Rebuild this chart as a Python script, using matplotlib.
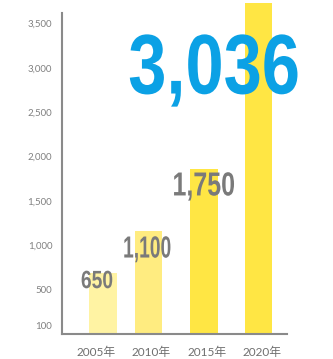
import numpy as np
import matplotlib
matplotlib.use("Agg")
import matplotlib.pyplot as plt
from matplotlib import patheffects
from matplotlib.transforms import Affine2D

# data ---------------------------------------------------------------------------
years = ["2005年", "2010年", "2015年", "2020年"]
values = [650, 1100, 1750, 3036]          # printed labels
bar_heights = [690, 1160, 1860, 3730]     # heights as drawn in the picture
yticks = [100, 500, 1000, 1500, 2000, 2500, 3000, 3500]

# style --------------------------------------------------------------------------
bar_colors = ["#FFF3A3", "#FFEC80", "#FFE644", "#FFE644"]
bar_offsets = [0.13, -0.05, -0.05, -0.06]
gray = "#808080"
blue = "#0BA1E5"
lab_font = ["Lato", "Noto Sans CJK JP"]
DPI = 100


# squeeze glyphs horizontally (condensed look) around a fixed pixel x
class Squeeze(patheffects.AbstractPathEffect):
    def __init__(self, sx, cx):
        super().__init__()
        self.sx, self.cx = sx, cx

    def draw_path(self, renderer, gc, tpath, affine, rgbFace=None):
        t = affine + Affine2D().translate(-self.cx, 0).scale(self.sx, 1).translate(self.cx, 0)
        renderer.draw_path(gc, tpath, t, rgbFace)


fig = plt.figure(figsize=(3.33, 3.59), dpi=DPI)
ax = fig.add_axes([0.1862, 0.0696, 0.6757, 0.8942])

x = np.arange(len(years)) + np.array(bar_offsets)
bars = ax.bar(x, bar_heights, width=0.5, color=bar_colors, zorder=1)
bars[3].set_clip_on(False)

ax.set_xlim(-0.615, 3.454)
ax.set_ylim(0, 3620)
ax.set_yticks(yticks)
ax.set_yticklabels([f"{v:,}" for v in yticks], family=lab_font, fontsize=7, color=gray)
ax.set_xticks(np.arange(len(years)))
ax.set_xticklabels(years, family=lab_font, fontsize=8.5, color="#6f6f6f")
ax.tick_params(length=0, pad=7)
ax.tick_params(axis="x", pad=9)

for s in ["top", "right"]:
    ax.spines[s].set_visible(False)
for s in ["left", "bottom"]:
    ax.spines[s].set_color("#8a8a8a")
    ax.spines[s].set_linewidth(1.5)

# value labels -------------------------------------------------------------------
sizes = [18, 22, 24, 61]
shifts = [(-4.5, -11), (-1, -19), (0, -19), (-32, -65)]
squeeze = [0.77, 0.63, 0.75, 0.81]
colors = ["#7a7a7a", "#7a7a7a", "#7a7a7a", blue]
for i, v in enumerate(values):
    cx = ax.transData.transform((x[i], bar_heights[i]))[0] + shifts[i][0] * DPI / 72
    ax.annotate(f"{v:,}", xy=(x[i], bar_heights[i]), xytext=shifts[i],
                textcoords="offset points", ha="center", va="baseline",
                family="Liberation Sans", fontweight="bold", fontsize=sizes[i], color=colors[i],
                annotation_clip=False, path_effects=[Squeeze(squeeze[i], cx)])

fig.savefig("out.png", dpi=DPI)
